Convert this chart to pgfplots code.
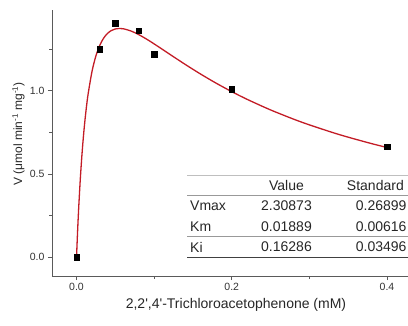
\documentclass[border=0pt]{standalone}
\usepackage{pgfplots}
\pgfplotsset{compat=1.18}
\usepackage{fontspec}
\setmainfont{Liberation Sans}
\definecolor{fitred}{RGB}{195,28,38}
\definecolor{axgray}{RGB}{90,90,90}
\begin{document}
\begin{tikzpicture}
\useasboundingbox (-52pt,-49pt) rectangle (356pt,276pt);
\begin{axis}[
  scale only axis, width=356pt, height=266pt,
  at={(0pt,0pt)}, anchor=south west,
  xmin=-0.0316, xmax=0.427, ymin=-0.112, ymax=1.484,
  axis x line*=bottom, axis y line*=left,
  axis line style={axgray, line width=0.8pt},
  every tick/.style={axgray, line width=0.8pt},
  tick align=outside,
  major tick length=4pt, minor tick length=2.5pt,
  xtick={0,0.2,0.4}, minor xtick={0.1,0.3},
  ytick={0,0.5,1.0}, minor ytick={0.25,0.75,1.25},
  /pgf/number format/assume math mode=true,
  xticklabel style={/pgf/number format/fixed, /pgf/number format/precision=1, /pgf/number format/fixed zerofill, font=\fontsize{10.5}{12}\selectfont, text=black!80},
  yticklabel style={/pgf/number format/fixed, /pgf/number format/precision=1, /pgf/number format/fixed zerofill, font=\fontsize{10.5}{12}\selectfont, text=black!80},
  clip=false,
]
\addplot[fitred, line width=1.3pt, smooth, mark=none] coordinates {
(0,0) (0.001,0.11604) (0.002,0.22078) (0.003,0.31561) (0.005,0.48012)
(0.0075,0.64766) (0.01,0.78251) (0.0125,0.89211) (0.015,0.98184)
(0.02,1.11678) (0.025,1.20933) (0.03,1.27283) (0.035,1.31580)
(0.04,1.34394) (0.045,1.36121) (0.05,1.37032) (0.055,1.37330)
(0.06,1.37159) (0.07,1.35833) (0.08,1.33656) (0.09,1.30993)
(0.1,1.28053) (0.12,1.21881) (0.14,1.15751) (0.16,1.09913)
(0.18,1.04459) (0.2,0.99407) (0.22,0.94748) (0.25,0.88436)
(0.28,0.82847) (0.3,0.79473) (0.33,0.74873) (0.35,0.72079)
(0.38,0.68245) (0.4,0.65901)
};
\addplot[only marks, mark=square*, mark size=2.8pt, black, mark options={fill=black}] coordinates {
(0,0) (0.03,1.25) (0.05,1.405) (0.08,1.36) (0.1,1.218) (0.2,1.01) (0.4,0.665)
};
\end{axis}
% table
\draw[gray!50, line width=0.7pt] (135pt,101pt) -- (356pt,101pt);
\draw[gray!80, line width=0.7pt] (135pt,81pt) -- (356pt,81pt);
\draw[gray!80, line width=0.7pt] (135pt,39.3pt) -- (356pt,39.3pt);
\draw[black!75, line width=0.8pt] (135pt,18.7pt) -- (356pt,18.7pt);
\begin{scope}[every node/.style={font=\fontsize{14}{16}\selectfont, text=black!85, inner sep=0pt}]
\node at (234.5pt,91pt) {Value};
\node[anchor=east] at (352pt,91pt) {Standard};
\node[anchor=west] at (138pt,70pt) {Vmax};
\node[anchor=west] at (138pt,49pt) {Km};
\node[anchor=west] at (138pt,29pt) {Ki};
\node at (234.5pt,70pt) {2.30873};
\node at (234.5pt,49pt) {0.01889};
\node at (234.5pt,29pt) {0.16286};
\node[anchor=east] at (354.7pt,70pt) {0.26899};
\node[anchor=east] at (354.7pt,49pt) {0.00616};
\node[anchor=east] at (354.7pt,29pt) {0.03496};
\end{scope}
% axis labels
\node[font=\fontsize{14}{16}\selectfont, text=black!85, inner sep=0pt] at (184pt,-29pt) {2,2\textquotesingle,4\textquotesingle-Trichloroacetophenone (mM)};
\node[font=\fontsize{12}{14}\selectfont, text=black!85, inner sep=0pt, rotate=90] at (-33.5pt,142pt) {V (μmol min\textsuperscript{-1} mg\textsuperscript{-1})};
\end{tikzpicture}
\end{document}
